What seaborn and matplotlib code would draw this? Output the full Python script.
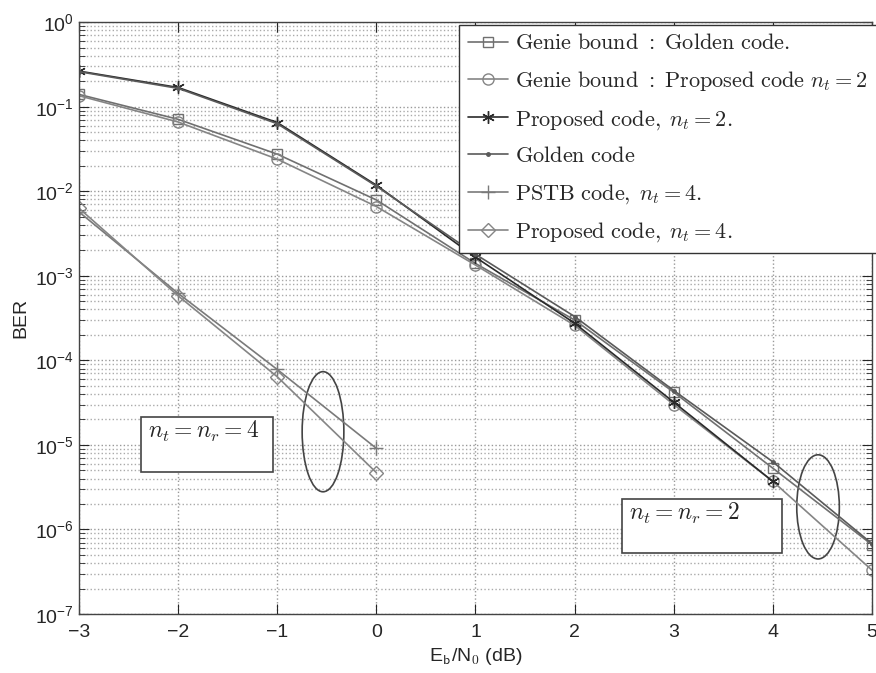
import seaborn as sns
import numpy as np
import pandas as pd
import matplotlib.pyplot as plt
from matplotlib.patches import Ellipse, Rectangle

# BER curves
snr2 = [-3, -2, -1, 0, 1, 2, 3, 4, 5]
genie_golden = [0.14, 0.071, 0.0275, 0.0079, 0.0014, 3.0e-4, 4.2e-5, 5.3e-6, 6.6e-7]
genie_prop = [0.135, 0.066, 0.024, 0.0066, 0.00134, 2.6e-4, 3.0e-5, 3.7e-6, 3.3e-7]
snr_p2 = [-3, -2, -1, 0, 1, 2, 3, 4]
prop2 = [0.264, 0.169, 0.065, 0.0118, 0.00166, 2.75e-4, 3.2e-5, 3.7e-6]
golden = [0.26, 0.165, 0.063, 0.0115, 0.0018, 3.3e-4, 4.4e-5, 6.3e-6, 6.8e-7]
snr4 = [-3, -2, -1, 0]
pstb4 = [0.0057, 6.2e-4, 7.8e-5, 9.1e-6]
prop4 = [0.0063, 5.8e-4, 6.4e-5, 4.7e-6]

labels = [r'$\mathrm{Genie\ bound\ {:}\ Golden\ code.}$',
          r'$\mathrm{Genie\ bound\ {:}\ Proposed\ code}\ n_t = 2$',
          r'$\mathrm{Proposed\ code,}\;n_t = 2.$',
          r'$\mathrm{Golden\ code}$',
          r'$\mathrm{PSTB\ code,}\;n_t = 4.$',
          r'$\mathrm{Proposed\ code,}\;n_t = 4.$']

sns.set_style("ticks")
plt.rcParams['font.family'] = ['Liberation Sans', 'DejaVu Sans']
plt.rcParams['mathtext.fontset'] = 'cm'

fig = plt.figure(figsize=(8.76, 6.73), dpi=100)
ax = fig.add_axes([0.0902, 0.0877, 0.9052, 0.8793])

series = [
    (snr2, genie_golden, labels[0], 's', '#707070', 7),
    (snr2, genie_prop, labels[1], 'o', '#858585', 8),
    (snr_p2, prop2, labels[2], (6, 2, 0), '#2a2a2a', 9),
    (snr2, golden, labels[3], '.', '#5a5a5a', 5),
    (snr4, pstb4, labels[4], '+', '#7a7a7a', 10),
    (snr4, prop4, labels[5], 'D', '#858585', 7),
]
for x, y, lab, mk, col, ms in series:
    df = pd.DataFrame({'snr': x, 'ber': y})
    filled = mk in ('.', '+', (6, 2, 0))
    sns.lineplot(data=df, x='snr', y='ber', ax=ax, label=lab, color=col,
                 marker=mk, markersize=ms, markerfacecolor=col if filled else 'none',
                 markeredgecolor=col, markeredgewidth=1.0, linewidth=1.2)

ax.set_yscale('log')
ax.set_xlim(-3, 5)
ax.set_ylim(1e-7, 1)
ax.set_xticks(range(-3, 6))
ax.set_xticklabels(['\u22123', '\u22122', '\u22121', '0', '1', '2', '3', '4', '5'])
ax.grid(True, which='major', linestyle=':', color='#999999', linewidth=1.0)
ax.grid(True, which='minor', axis='y', linestyle=':', color='#aaaaaa', linewidth=1.0)
ax.tick_params(which='both', direction='in', top=True, right=True, labelsize=14)
ax.tick_params(axis='x', pad=7)
ax.tick_params(which='major', length=7)
ax.tick_params(which='minor', length=4)
for s in ax.spines.values():
    s.set_color('#444444')
    s.set_linewidth(1.0)
ax.set_xlabel(r'E$_{\mathsf{b}}$/N$_{\mathsf{0}}$ (dB)', fontsize=14, labelpad=4)
ax.set_ylabel('BER', fontsize=14, labelpad=4)

leg = ax.legend(loc='upper right', bbox_to_anchor=(1.006, 0.996), fontsize=16,
                frameon=True, fancybox=False, framealpha=1, edgecolor='#333333',
                borderaxespad=0, handlelength=1.8, labelspacing=0.66, handletextpad=0.35,
                borderpad=0.4)
leg.get_frame().set_linewidth(1.0)

# ellipses marking groups
ax.add_patch(Ellipse((0.3077, 0.308), 0.0526, 0.203, transform=ax.transAxes,
                     fill=False, ec='#444444', lw=1.2))
ax.add_patch(Ellipse((0.932, 0.181), 0.0537, 0.176, transform=ax.transAxes,
                     fill=False, ec='#444444', lw=1.2))

# annotation boxes
ax.add_patch(Rectangle((0.078, 0.240), 0.167, 0.093, transform=ax.transAxes,
                       fill=True, fc='white', ec='#444444', lw=1.2))
ax.text(0.087, 0.308, r'$n_t = n_r = 4$', transform=ax.transAxes, fontsize=17, va='center')
ax.add_patch(Rectangle((0.685, 0.1035), 0.201, 0.0905, transform=ax.transAxes,
                       fill=True, fc='white', ec='#444444', lw=1.2))
ax.text(0.693, 0.170, r'$n_t = n_r = 2$', transform=ax.transAxes, fontsize=17, va='center')

fig.savefig('out.png', dpi=100)
